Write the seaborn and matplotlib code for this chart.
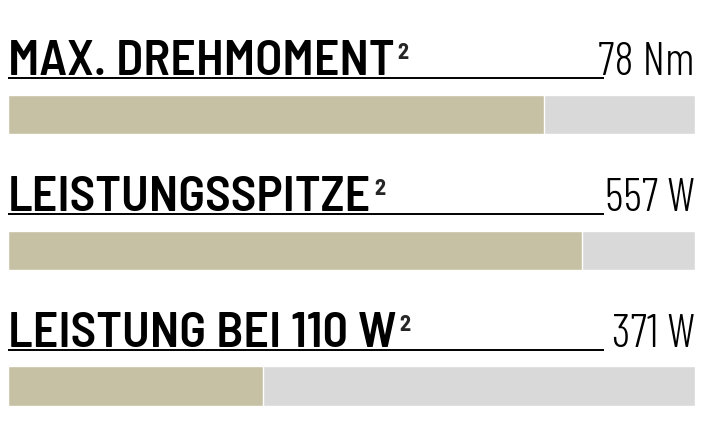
import matplotlib
matplotlib.use("Agg")
import matplotlib.pyplot as plt
import pandas as pd
import seaborn as sns

# data
labels = ["MAX. DREHMOMENT", "LEISTUNGSSPITZE", "LEISTUNG BEI 110 W"]
value_text = ["78 Nm", "557 W", "371 W"]
fill_pct = [78.0, 83.5, 37.1]
track_pct = [100, 100, 100]

FILL = "#c6c1a4"
TRACK = "#d9d9d9"
TITLE_FONT = ["Barlow Semi Condensed", "Barlow Condensed", "DejaVu Sans"]
VALUE_FONT = ["Barlow Condensed", "DejaVu Sans"]

sns.set_theme(style="white")
plt.rcParams["font.family"] = VALUE_FONT

df = pd.DataFrame({"label": labels, "fill": fill_pct, "track": track_pct})

fig = plt.figure(figsize=(7.12, 4.47), dpi=100)
ax = fig.add_axes([8 / 712, 0, 687 / 712, 1])

# grey track behind, beige fill on top
sns.barplot(data=df, y="label", x="track", orient="h", color=TRACK,
            width=0.294, saturation=1, ax=ax)
sns.barplot(data=df, y="label", x="fill", orient="h", color=FILL,
            width=0.294, saturation=1, ax=ax)

ax.set_xlim(0, 100)
ax.set_ylim(2.445, -0.842)
ax.set_axis_off()

for i, (lab, val) in enumerate(zip(labels, value_text)):
    t = ax.text(0, i - 0.29, lab, fontsize=36, fontweight=600,
                family=TITLE_FONT, ha="left", va="baseline", color="black")
    ax.annotate("2", xy=(1, 1), xycoords=t, xytext=(2, -2),
                textcoords="offset points", fontsize=16, fontweight=700,
                family=TITLE_FONT, ha="left", va="top")
    ax.text(100, i - 0.29, val, fontsize=33, fontweight=300,
            ha="right", va="baseline", color="black")
    ax.plot([0, 86.8], [i - 0.268, i - 0.268], color="black", lw=1.4,
            solid_capstyle="butt")

fig.savefig("out.png", dpi=100, facecolor="white")
